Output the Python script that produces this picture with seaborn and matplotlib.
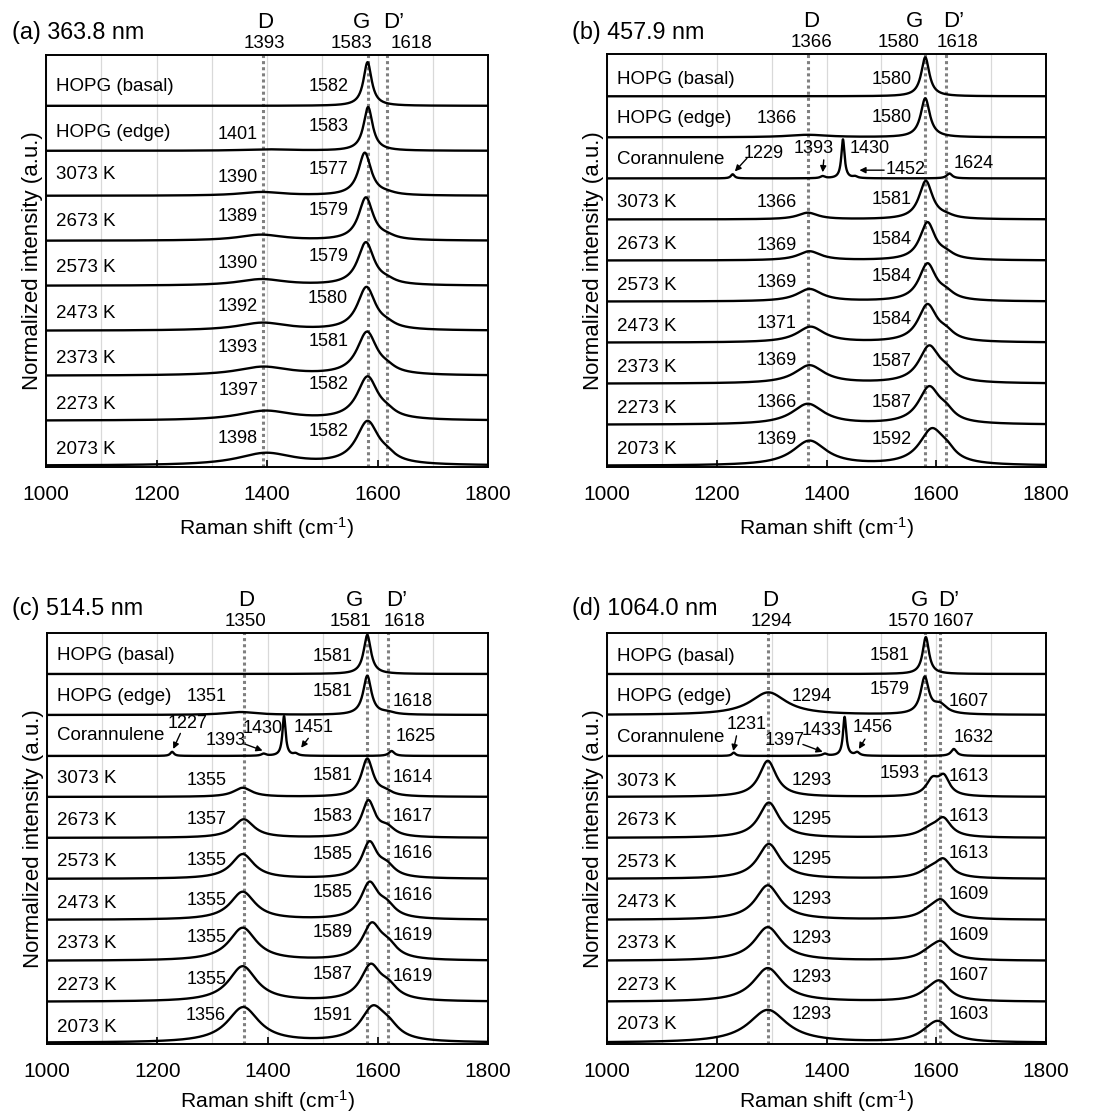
import numpy as np
import pandas as pd
import matplotlib
matplotlib.use("Agg")
import matplotlib.pyplot as plt
import seaborn as sns

sns.set_theme(style="white")
plt.rcParams['font.family'] = ['Liberation Sans', 'DejaVu Sans']
plt.rcParams['mathtext.fontset'] = 'custom'
plt.rcParams['mathtext.rm'] = 'Liberation Sans'
plt.rcParams['mathtext.default'] = 'regular'
for k in ('text.color', 'axes.labelcolor', 'xtick.color', 'ytick.color'):
    plt.rcParams[k] = 'black'

NAN = np.nan

# ---------------- panel (a) 363.8 nm ----------------
a_title = "(a) 363.8 nm"
a_rows = ["HOPG (basal)", "HOPG (edge)", "3073 K", "2673 K", "2573 K", "2473 K", "2373 K", "2273 K", "2073 K"]
a_ref_lines = [1393, 1583, 1618]
a_ref_labels = ["1393", "1583", "1618"]
a_G_pos = [1582, 1583, 1577, 1579, 1579, 1580, 1581, 1582, 1582]
a_G_amp = [0.97, 0.97, 0.95, 0.95, 0.95, 0.95, 0.95, 0.95, 0.95]
a_G_fwhm = [18, 20, 28, 32, 36, 40, 44, 46, 50]
a_D_pos = [NAN, 1401, 1390, 1389, 1390, 1392, 1393, 1397, 1398]
a_D_amp = [0.0, 0.03, 0.08, 0.13, 0.14, 0.17, 0.19, 0.21, 0.27]
a_D_fwhm = [80, 110, 95, 100, 105, 110, 115, 120, 125]
a_Dp_pos = [NAN, NAN, 1618, 1618, 1618, 1618, 1618, 1618, 1618]
a_Dp_amp = [0.0, 0.0, 0.03, 0.05, 0.06, 0.07, 0.08, 0.09, 0.10]
a_Dp_fwhm = [35] * 9
a_G_lbl = ["1582", "1583", "1577", "1579", "1579", "1580", "1581", "1582", "1582"]
a_D_lbl = [None, "1401", "1390", "1389", "1390", "1392", "1393", "1397", "1398"]
a_Dp_lbl = [None] * 9

# ---------------- panel (b) 457.9 nm ----------------
b_title = "(b) 457.9 nm"
b_rows = ["HOPG (basal)", "HOPG (edge)", "Corannulene", "3073 K", "2673 K", "2573 K", "2473 K", "2373 K", "2273 K", "2073 K"]
b_ref_lines = [1366, 1580, 1618]
b_ref_labels = ["1366", "1580", "1618"]
b_G_pos = [1580, 1580, NAN, 1581, 1584, 1584, 1584, 1587, 1587, 1592]
b_G_amp = [0.95, 0.95, 0.0, 0.93, 0.91, 0.9, 0.9, 0.88, 0.88, 0.85]
b_G_fwhm = [18, 20, 20, 30, 34, 38, 42, 46, 48, 56]
b_D_pos = [NAN, 1366, NAN, 1366, 1369, 1369, 1371, 1369, 1366, 1369]
b_D_amp = [0.0, 0.06, 0.0, 0.16, 0.22, 0.30, 0.38, 0.44, 0.50, 0.60]
b_D_fwhm = [60, 90, 60, 45, 50, 55, 60, 65, 70, 75]
b_Dp_pos = [NAN, NAN, NAN, 1618, 1618, 1618, 1618, 1618, 1618, 1620]
b_Dp_amp = [0.0, 0.0, 0.0, 0.05, 0.11, 0.14, 0.16, 0.18, 0.2, 0.18]
b_Dp_fwhm = [35] * 10
b_G_lbl = ["1580", "1580", None, "1581", "1584", "1584", "1584", "1587", "1587", "1592"]
b_D_lbl = [None, "1366", None, "1366", "1369", "1369", "1371", "1369", "1366", "1369"]
b_Dp_lbl = [None] * 10
b_cor_pos = [1229, 1393, 1430, 1452, 1624]
b_cor_amp = [0.10, 0.05, 0.95, 0.04, 0.12]
b_cor_fwhm = [8, 10, 7, 10, 12]

# ---------------- panel (c) 514.5 nm ----------------
c_title = "(c) 514.5 nm"
c_rows = b_rows
c_ref_lines = [1357, 1581, 1618]
c_ref_labels = ["1350", "1581", "1618"]
c_G_pos = [1581, 1581, NAN, 1581, 1583, 1585, 1585, 1589, 1587, 1591]
c_G_amp = [0.95, 0.95, 0.0, 0.92, 0.88, 0.85, 0.85, 0.84, 0.83, 0.80]
c_G_fwhm = [16, 18, 20, 26, 30, 34, 38, 42, 44, 54]
c_D_pos = [NAN, 1351, NAN, 1355, 1357, 1355, 1355, 1355, 1355, 1356]
c_D_amp = [0.0, 0.07, 0.0, 0.22, 0.45, 0.60, 0.68, 0.80, 0.86, 0.86]
c_D_fwhm = [60, 70, 60, 40, 45, 50, 55, 60, 62, 70]
c_Dp_pos = [NAN, 1618, NAN, 1614, 1617, 1616, 1616, 1619, 1619, 1620]
c_Dp_amp = [0.0, 0.05, 0.0, 0.09, 0.2, 0.25, 0.27, 0.28, 0.28, 0.25]
c_Dp_fwhm = [30, 30, 30, 30, 34, 36, 38, 40, 42, 45]
c_G_lbl = ["1581", "1581", None, "1581", "1583", "1585", "1585", "1589", "1587", "1591"]
c_D_lbl = [None, "1351", None, "1355", "1357", "1355", "1355", "1355", "1355", "1356"]
c_Dp_lbl = [None, "1618", None, "1614", "1617", "1616", "1616", "1619", "1619", None]
c_cor_pos = [1227, 1393, 1430, 1451, 1625]
c_cor_amp = [0.10, 0.05, 0.97, 0.05, 0.12]
c_cor_fwhm = [8, 10, 7, 10, 12]

# ---------------- panel (d) 1064.0 nm ----------------
d_title = "(d) 1064.0 nm"
d_rows = b_rows
d_ref_lines = [1294, 1579, 1607]
d_ref_labels = ["1294", "1570", "1607"]
d_G_pos = [1581, 1579, NAN, 1593, 1588, 1588, 1588, 1588, 1588, 1588]
d_G_amp = [0.90, 0.88, 0.0, 0.38, 0.18, 0.17, 0.16, 0.16, 0.16, 0.16]
d_G_fwhm = [14, 18, 20, 28, 45, 45, 45, 45, 50, 55]
d_D_pos = [NAN, 1294, NAN, 1293, 1295, 1295, 1293, 1293, 1293, 1293]
d_D_amp = [0.0, 0.55, 0.0, 0.88, 0.86, 0.85, 0.84, 0.82, 0.82, 0.80]
d_D_fwhm = [60, 80, 60, 38, 45, 50, 55, 60, 65, 85]
d_Dp_pos = [NAN, 1607, NAN, 1614, 1613, 1613, 1609, 1609, 1607, 1605]
d_Dp_amp = [0.0, 0.22, 0.0, 0.44, 0.42, 0.42, 0.41, 0.39, 0.41, 0.40]
d_Dp_fwhm = [25, 30, 25, 25, 34, 36, 38, 40, 42, 48]
d_G_lbl = ["1581", "1579", None, "1593", None, None, None, None, None, None]
d_D_lbl = [None, "1294", None, "1293", "1295", "1295", "1293", "1293", "1293", "1293"]
d_Dp_lbl = [None, "1607", None, "1613", "1613", "1613", "1609", "1609", "1607", "1603"]
d_cor_pos = [1231, 1397, 1433, 1456, 1632]
d_cor_amp = [0.08, 0.05, 0.95, 0.08, 0.17]
d_cor_fwhm = [8, 10, 7, 10, 12]

# ---------------- layout (positions only) ----------------
panels = [
    dict(title=a_title, rows=a_rows, ref_lines=a_ref_lines, ref_labels=a_ref_labels,
         G=(a_G_pos, a_G_amp, a_G_fwhm), D=(a_D_pos, a_D_amp, a_D_fwhm), Dp=(a_Dp_pos, a_Dp_amp, a_Dp_fwhm),
         G_lbl=a_G_lbl, D_lbl=a_D_lbl, Dp_lbl=a_Dp_lbl, cor=None, xlpad=8,
         rect=[46/1102, 1-467/1117, 442/1102, 412/1117], title_xy=(12, 32), ylim=(-0.03, 9.13),
         top_x=[(1396, 1396), (1571, 1553), (1629, 1662)],
         G_x=1547, G_ha='right', D_x=1384, D_ha='right', Dp_x=1628,
         G_y=[0.42, 0.55, 0.58, 0.68, 0.65, 0.72, 0.77, 0.8, 0.76],
         D_y=[0, 0.36, 0.4, 0.53, 0.5, 0.53, 0.62, 0.68, 0.6],
         Dp_y=[0] * 9,
         name_y=[0.42, 0.4, 0.47, 0.42, 0.4, 0.38, 0.38, 0.35, 0.37]),
    dict(title=b_title, rows=b_rows, ref_lines=b_ref_lines, ref_labels=b_ref_labels,
         G=(b_G_pos, b_G_amp, b_G_fwhm), D=(b_D_pos, b_D_amp, b_D_fwhm), Dp=(b_Dp_pos, b_Dp_amp, b_Dp_fwhm),
         G_lbl=b_G_lbl, D_lbl=b_D_lbl, Dp_lbl=b_Dp_lbl, xlpad=8,
         cor=(b_cor_pos, b_cor_amp, b_cor_fwhm),
         cor_txt=[(1285, 0.61, (1255, 0.49), (1233, 0.17)),
                  (1376, 0.72, (1395, 0.45), (1393, 0.15)),
                  (1478, 0.72, None, None),
                  (1545, 0.21, (1505, 0.2), (1460, 0.2)),
                  (1668, 0.37, None, None)],
         rect=[607/1102, 1-467/1117, 439/1102, 413/1117], title_xy=(572, 33), ylim=(-0.03, 10.03),
         top_x=[(1373, 1373), (1560, 1531), (1631, 1638)],
         G_x=1555, G_ha='right', D_x=1346, D_ha='right', Dp_x=1628,
         G_y=[0.41, 0.49, 0, 0.49, 0.51, 0.61, 0.57, 0.55, 0.55, 0.65],
         D_y=[0, 0.45, 0, 0.41, 0.37, 0.46, 0.47, 0.56, 0.55, 0.65],
         Dp_y=[0] * 10,
         name_y=[0.42, 0.45, 0.45, 0.41, 0.4, 0.4, 0.4, 0.4, 0.4, 0.39]),
    dict(title=c_title, rows=c_rows, ref_lines=c_ref_lines, ref_labels=c_ref_labels,
         G=(c_G_pos, c_G_amp, c_G_fwhm), D=(c_D_pos, c_D_amp, c_D_fwhm), Dp=(c_Dp_pos, c_Dp_amp, c_Dp_fwhm),
         G_lbl=c_G_lbl, D_lbl=c_D_lbl, Dp_lbl=c_Dp_lbl, xlpad=5,
         cor=(c_cor_pos, c_cor_amp, c_cor_fwhm),
         cor_txt=[(1255, 0.8, (1242, 0.55), (1229, 0.17)),
                  (1324, 0.37, (1359, 0.29), (1391, 0.13)),
                  (1392, 0.67, None, None),
                  (1484, 0.7, (1474, 0.43), (1461, 0.2)),
                  (1668, 0.47, None, None)],
         rect=[47/1102, 1-1044/1117, 441/1102, 411/1117], title_xy=(12, 609), ylim=(-0.03, 10.0),
         top_x=[(1362, 1360), (1557, 1550), (1634, 1648)],
         G_x=1554, G_ha='right', D_x=1325, D_ha='right', Dp_x=1627,
         G_y=[0.42, 0.57, 0, 0.53, 0.53, 0.59, 0.66, 0.69, 0.67, 0.67],
         D_y=[0, 0.45, 0, 0.39, 0.46, 0.45, 0.48, 0.57, 0.54, 0.67],
         Dp_y=[0, 0.33, 0, 0.47, 0.53, 0.61, 0.59, 0.63, 0.61, 0],
         name_y=[0.45, 0.45, 0.5, 0.45, 0.42, 0.42, 0.4, 0.42, 0.4, 0.38]),
    dict(title=d_title, rows=d_rows, ref_lines=d_ref_lines, ref_labels=d_ref_labels,
         G=(d_G_pos, d_G_amp, d_G_fwhm), D=(d_D_pos, d_D_amp, d_D_fwhm), Dp=(d_Dp_pos, d_Dp_amp, d_Dp_fwhm),
         G_lbl=d_G_lbl, D_lbl=d_D_lbl, Dp_lbl=d_Dp_lbl, xlpad=5,
         cor=(d_cor_pos, d_cor_amp, d_cor_fwhm),
         cor_txt=[(1254, 0.77, (1236, 0.49), (1230, 0.12)),
                  (1324, 0.37, (1357, 0.28), (1393, 0.1)),
                  (1391, 0.63, None, None),
                  (1485, 0.69, (1470, 0.41), (1459, 0.17)),
                  (1669, 0.45, None, None)],
         rect=[607/1102, 1-1044/1117, 439/1102, 411/1117], title_xy=(572, 609), ylim=(-0.03, 10.0),
         top_x=[(1297, 1300), (1569, 1549), (1622, 1631)],
         G_x=[1552, 1552, 0, 1570, 0, 0, 0, 0, 0, 0], G_ha='right', D_x=1336, D_ha='left', Dp_x=1622,
         G_y=[0.46, 0.61, 0, 0.57, 0, 0, 0, 0, 0, 0],
         D_y=[0, 0.45, 0, 0.41, 0.45, 0.47, 0.5, 0.54, 0.59, 0.69],
         Dp_y=[0, 0.33, 0, 0.49, 0.53, 0.63, 0.63, 0.62, 0.63, 0.69],
         name_y=[0.42, 0.45, 0.45, 0.37, 0.42, 0.4, 0.42, 0.42, 0.4, 0.45]),
]

x = np.arange(1000, 1800.01, 0.5)


def lor(x0, amp, fwhm):
    if np.isnan(x0) or amp == 0:
        return np.zeros_like(x)
    return amp / (1 + ((x - x0) / (fwhm / 2.0)) ** 2)


W, H = 1102, 1117
fig = plt.figure(figsize=(W / 100, H / 100), dpi=100)
LBL = 13

for P in panels:
    ax = fig.add_axes(P['rect'])
    rows = P['rows']
    n = len(rows)
    frames = []
    for i, name in enumerate(rows):
        off = n - 1 - i
        if name == "Corannulene":
            cp, ca, cf = P['cor']
            y = sum(lor(p, a, f) for p, a, f in zip(cp, ca, cf))
        else:
            y = np.zeros_like(x)
            for key in ('G', 'D', 'Dp'):
                pos, amp, fw = P[key]
                y = y + lor(pos[i], amp[i], fw[i])
        frames.append(pd.DataFrame({'shift': x, 'inten': y + off, 'row': name}))
    df = pd.concat(frames, ignore_index=True)
    sns.lineplot(data=df, x='shift', y='inten', units='row', estimator=None, sort=False,
                 color='black', lw=1.7, ax=ax, legend=False)

    ax.set_xlim(1000, 1800)
    ax.set_ylim(*P['ylim'])
    ax.set_yticks([])
    ax.set_xticks(range(1000, 1801, 200))
    ax.set_xticks(range(1000, 1801, 100), minor=True)
    ax.grid(True, which='both', axis='x', color='#d9d9d9', lw=0.9)
    ax.grid(False, axis='y')
    ax.tick_params(axis='x', which='major', direction='in', length=5, width=1.2,
                   bottom=True, top=False, labelsize=15, pad=13, color='black', labelcolor='black')
    ax.tick_params(axis='x', which='minor', length=0)
    for s in ax.spines.values():
        s.set_color('black')
        s.set_linewidth(1.4)
        s.set_visible(True)
    ax.set_facecolor('white')
    ax.set_xlabel("Raman shift (cm$^{\\text{-1}}$)", fontsize=15.2, labelpad=P['xlpad'], color='black')
    ax.set_ylabel("Normalized intensity (a.u.)", fontsize=16, labelpad=2.5, color='black')

    # reference lines
    for xv in P['ref_lines']:
        ax.axvline(xv, color='#808080', lw=2.2, ls=(0, (1, 1)), zorder=1.5)

    # top labels
    trans = ax.get_xaxis_transform()
    letters = ["D", "G", "D\u2019"]
    for (lx, nx), let, lab in zip(P['top_x'], letters, P['ref_labels']):
        ax.text(lx, 1.078, let, transform=trans, ha='center', va='center', fontsize=16)
        ax.text(nx, 1.028, lab, transform=trans, ha='center', va='center', fontsize=13.5)

    # title
    fig.text(P['title_xy'][0] / W, 1 - P['title_xy'][1] / H, P['title'], fontsize=16.8,
             ha='left', va='center')

    # row labels and peak labels
    for i, name in enumerate(rows):
        off = n - 1 - i
        ax.text(1018, off + P['name_y'][i], name, fontsize=13.5, ha='left', va='center')
        if P['G_lbl'][i]:
            gx = P['G_x'][i] if isinstance(P['G_x'], list) else P['G_x']
            ax.text(gx, off + P['G_y'][i], P['G_lbl'][i], fontsize=LBL, ha=P['G_ha'], va='center')
        if P['D_lbl'][i]:
            ax.text(P['D_x'], off + P['D_y'][i], P['D_lbl'][i], fontsize=LBL, ha=P['D_ha'], va='center')
        if P['Dp_lbl'][i]:
            ax.text(P['Dp_x'], off + P['Dp_y'][i], P['Dp_lbl'][i], fontsize=LBL, ha='left', va='center')
        if name == "Corannulene":
            cp = P['cor'][0]
            for p, (tx, ty, tail, head) in zip(cp, P['cor_txt']):
                ax.text(tx, off + ty, str(p), fontsize=LBL, ha='center', va='center')
                if tail is not None:
                    ax.annotate("", xy=(head[0], off + head[1]), xytext=(tail[0], off + tail[1]),
                                arrowprops=dict(arrowstyle='-|>', color='black', lw=1.0,
                                                mutation_scale=9, shrinkA=0, shrinkB=0))

fig.savefig("out.png", dpi=100, facecolor='white')
